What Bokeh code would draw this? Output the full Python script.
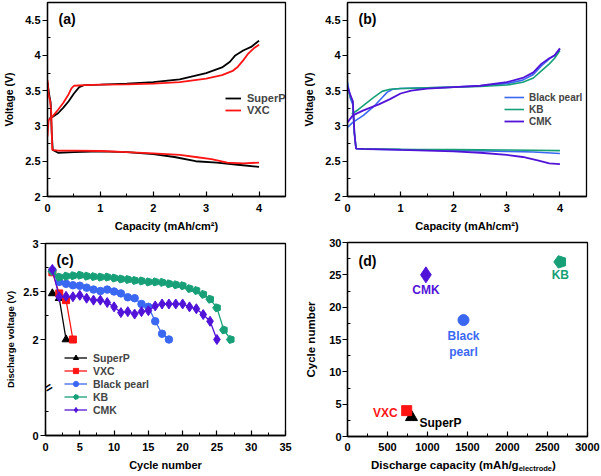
import math
from bokeh.plotting import figure
from bokeh.layouts import column, row
from bokeh.models import Legend, LegendItem, Label, FixedTicker, Range1d, Div
from bokeh.core.properties import value
from bokeh.embed import file_html
from bokeh.resources import INLINE

FONT = "Liberation Sans"
C_SUPERP = "#000000"
C_VXC = "#ff1414"
C_BP = "#3b68f2"
C_KB = "#17a077"
C_CMK = "#5213d9"

# ---------------- (a) SuperP / VXC voltage profiles ----------------
a_superp_dis_x = [0.0, 0.03, 0.06, 0.08, 0.1, 0.2, 0.5, 1.0, 1.5, 2.0, 2.4, 2.8, 3.2, 3.6, 4.0]
a_superp_dis_y = [3.62, 3.45, 3.33, 2.9, 2.66, 2.62, 2.63, 2.64, 2.63, 2.6, 2.56, 2.5, 2.48, 2.45, 2.42]
a_vxc_dis_x = [0.0, 0.02, 0.05, 0.07, 0.09, 0.2, 0.5, 1.0, 1.5, 2.0, 2.5, 2.8, 3.1, 3.4, 3.7, 4.0]
a_vxc_dis_y = [3.65, 3.45, 3.35, 3.2, 2.66, 2.65, 2.65, 2.645, 2.63, 2.61, 2.59, 2.56, 2.53, 2.48, 2.47, 2.48]
a_superp_chg_x = [0.03, 0.1, 0.2, 0.3, 0.4, 0.5, 0.6, 0.7, 1.0, 1.5, 2.0, 2.5, 3.0, 3.3, 3.45, 3.55, 3.7, 3.85, 3.95, 4.0]
a_superp_chg_y = [3.1, 3.13, 3.18, 3.26, 3.35, 3.46, 3.55, 3.58, 3.585, 3.6, 3.62, 3.66, 3.75, 3.83, 3.91, 4.0, 4.07, 4.12, 4.18, 4.21]
a_vxc_chg_x = [0.0, 0.02, 0.1, 0.2, 0.3, 0.4, 0.45, 0.5, 0.7, 1.0, 1.5, 2.0, 2.5, 3.0, 3.3, 3.5, 3.6, 3.7, 3.8, 3.9, 4.0]
a_vxc_chg_y = [2.85, 3.08, 3.14, 3.23, 3.33, 3.45, 3.53, 3.57, 3.58, 3.585, 3.59, 3.6, 3.62, 3.67, 3.72, 3.78, 3.84, 3.93, 4.03, 4.1, 4.15]

# ---------------- (b) Black pearl / KB / CMK voltage profiles ----------------
b_bp_dis_x = [0.0, 0.05, 0.1, 0.13, 0.16, 0.3, 1.0, 2.0, 3.0, 3.5, 4.0]
b_bp_dis_y = [3.62, 3.4, 3.3, 2.9, 2.68, 2.67, 2.665, 2.655, 2.64, 2.63, 2.61]
b_kb_dis_x = [0.0, 0.05, 0.1, 0.13, 0.16, 0.3, 1.0, 2.0, 3.0, 4.0]
b_kb_dis_y = [3.55, 3.42, 3.35, 2.9, 2.68, 2.675, 2.67, 2.665, 2.66, 2.65]
b_cmk_dis_x = [0.0, 0.05, 0.1, 0.13, 0.16, 0.3, 1.0, 2.0, 2.5, 3.0, 3.3, 3.6, 3.8, 4.0]
b_cmk_dis_y = [3.56, 3.45, 3.35, 2.9, 2.68, 2.675, 2.66, 2.64, 2.62, 2.59, 2.56, 2.51, 2.47, 2.46]
b_bp_chg_x = [0.0, 0.1, 0.3, 0.5, 0.65, 0.75, 0.85, 1.0, 1.5, 2.0, 2.5, 3.0, 3.3, 3.5, 3.65, 3.8, 3.9, 4.0]
b_bp_chg_y = [2.98, 3.05, 3.15, 3.28, 3.4, 3.48, 3.52, 3.53, 3.54, 3.55, 3.57, 3.6, 3.65, 3.73, 3.85, 3.95, 4.0, 4.09]
b_kb_chg_x = [0.08, 0.2, 0.35, 0.5, 0.65, 0.8, 1.0, 1.5, 2.0, 2.5, 3.0, 3.3, 3.5, 3.65, 3.8, 3.9, 4.0]
b_kb_chg_y = [3.17, 3.23, 3.32, 3.41, 3.49, 3.52, 3.53, 3.54, 3.55, 3.56, 3.58, 3.62, 3.68, 3.78, 3.88, 3.96, 4.07]
b_cmk_chg_x = [0.0, 0.1, 0.3, 0.6, 0.8, 1.0, 1.2, 1.5, 2.0, 2.5, 3.0, 3.3, 3.5, 3.65, 3.8, 3.9, 4.0]
b_cmk_chg_y = [3.05, 3.15, 3.22, 3.31, 3.38, 3.46, 3.5, 3.53, 3.55, 3.57, 3.62, 3.68, 3.76, 3.88, 3.96, 4.0, 4.1]

# ---------------- (c) discharge voltage vs cycle ----------------
c_superp_cyc = [1, 2, 3]
c_superp_v = [2.48, 2.43, 2.0]
c_vxc_cyc = [1, 2, 3, 4]
c_vxc_v = [2.70, 2.48, 2.41, 2.0]
c_bp_cyc = list(range(1, 19))
c_bp_v = [2.72, 2.60, 2.58, 2.565, 2.56, 2.54, 2.52, 2.505, 2.52, 2.50, 2.48, 2.44, 2.43, 2.37, 2.34, 2.19, 2.06, 2.0]
c_kb_cyc = list(range(1, 28))
c_kb_v = [2.71, 2.65, 2.66, 2.665, 2.67, 2.66, 2.655, 2.65, 2.65, 2.64, 2.63, 2.625, 2.615, 2.61, 2.60, 2.60,
          2.595, 2.58, 2.57, 2.56, 2.53, 2.51, 2.47, 2.42, 2.33, 2.10, 2.0]
c_cmk_cyc = list(range(1, 26))
c_cmk_v = [2.73, 2.445, 2.45, 2.445, 2.46, 2.43, 2.41, 2.41, 2.385, 2.34, 2.28, 2.29, 2.265, 2.29, 2.30,
           2.35, 2.37, 2.37, 2.37, 2.37, 2.34, 2.32, 2.26, 2.19, 2.0]

# ---------------- (d) cycle number vs discharge capacity ----------------
d_names = ["SuperP", "VXC", "Black pearl", "KB", "CMK"]
d_capacity = [800, 740, 1450, 2660, 980]
d_cycles = [3, 4, 18, 27, 25]

# ticks
a_x_ticks = [0, 1, 2, 3, 4]
a_x_labels = ["0", "1", "2", "3", "4"]
a_y_ticks = [2, 2.5, 3, 3.5, 4, 4.5]
a_y_labels = ["2", "2.5", "3", "3.5", "4", "4.5"]
c_x_ticks = [0, 5, 10, 15, 20, 25, 30, 35]
c_y_ticks = [1, 2, 2.5, 3]          # 1 on the broken axis stands for 0
c_y_labels = ["0", "2", "2.5", "3"]
d_x_ticks = [0, 500, 1000, 1500, 2000, 2500, 3000]
d_y_ticks = [0, 5, 10, 15, 20, 25, 30]


def make_fig(width, height, left, right, top, bottom, xr, yr):
    p = figure(width=width, height=height, output_backend="svg", toolbar_location=None,
               x_range=Range1d(*xr), y_range=Range1d(*yr),
               min_border_left=left, min_border_right=right,
               min_border_top=top, min_border_bottom=bottom)
    p.xgrid.visible = False
    p.ygrid.visible = False
    p.outline_line_color = "black"
    p.outline_line_width = 1.3
    p.outline_line_alpha = 1
    p.background_fill_color = "white"
    p.border_fill_color = "white"
    return p


def style_axes(p, xlabel, ylabel, xt, xm, xl, yt, ym, yl, ylab_size="10.5px", xlab_size="11px",
               ylab_standoff=7, ytick_standoff=2, xtick_standoff=7):
    xa = p.xaxis[0]
    ya = p.yaxis[0]
    xa.ticker = FixedTicker(ticks=xt, minor_ticks=xm)
    ya.ticker = FixedTicker(ticks=yt, minor_ticks=ym)
    xa.major_label_overrides = dict(zip(xt, xl))
    ya.major_label_overrides = dict(zip(yt, yl))
    for ax in (xa, ya):
        ax.axis_line_width = 1.3
        ax.axis_line_color = "black"
        ax.major_tick_line_width = 1.2
        ax.minor_tick_line_width = 1.0
        ax.major_label_text_font = FONT
        ax.major_label_text_font_style = "bold"
        ax.major_label_text_font_size = "11px"
        ax.major_label_text_color = "black"
        ax.axis_label_text_font = FONT
        ax.axis_label_text_font_style = "bold"
        ax.axis_label_text_color = "black"
    xa.major_tick_in = 5
    xa.major_tick_out = 0
    xa.minor_tick_in = 3
    xa.minor_tick_out = 0
    xa.major_label_standoff = xtick_standoff
    if xlabel:
        xa.axis_label = xlabel
        xa.axis_label_text_font_size = xlab_size
        xa.axis_label_standoff = 5
    ya.major_tick_in = 0
    ya.major_tick_out = 5
    ya.minor_tick_in = 3
    ya.minor_tick_out = 0
    ya.major_label_standoff = ytick_standoff
    ya.axis_label = ylabel
    ya.axis_label_text_font_size = ylab_size
    ya.axis_label_standoff = ylab_standoff


def panel_label(p, text, x, y):
    p.add_layout(Label(x=x, y=y, x_units="screen", y_units="screen", text=text,
                       text_font=FONT, text_font_style="bold", text_font_size="14px",
                       text_align="left", text_baseline="middle", text_color="black"))


def legend(p, items, loc, font_size, row_h, glyph_w, standoff=6):
    lg = Legend(items=items, location=loc)
    lg.border_line_color = None
    lg.background_fill_alpha = 0
    lg.padding = 0
    lg.margin = 0
    lg.spacing = 0
    lg.label_text_font = FONT
    lg.label_text_font_style = "bold"
    lg.label_text_font_size = font_size
    lg.label_height = row_h
    lg.glyph_height = row_h
    lg.glyph_width = glyph_w
    lg.label_standoff = standoff
    lg.label_text_baseline = "middle"
    p.add_layout(lg)


# ======== (a) ========
pa = make_fig(300, 238, 44, 15, 2, 42, (0, 4.5), (2, 4.75))
style_axes(pa, "Capacity (mAh/cm\u00b2)", "Voltage (V)", a_x_ticks, [0.5, 1.5, 2.5, 3.5], a_x_labels,
           a_y_ticks, [2.25, 2.75, 3.25, 3.75, 4.25], a_y_labels)
ra1 = pa.line(a_superp_dis_x, a_superp_dis_y, color=C_SUPERP, line_width=1.8)
pa.line(a_superp_chg_x, a_superp_chg_y, color=C_SUPERP, line_width=1.8)
ra2 = pa.line(a_vxc_dis_x, a_vxc_dis_y, color=C_VXC, line_width=1.8)
pa.line(a_vxc_chg_x, a_vxc_chg_y, color=C_VXC, line_width=1.8)
legend(pa, [LegendItem(label="SuperP", renderers=[ra1]), LegendItem(label="VXC", renderers=[ra2])],
       (178, 80), "11px", 12, 16)
panel_label(pa, "(a)", 11, 178)

# ======== (b) ========
pb = make_fig(301, 238, 45, 15, 2, 42, (0, 4.5), (2, 4.75))
style_axes(pb, "Capacity (mAh/cm\u00b2)", "Voltage (V)", a_x_ticks, [0.5, 1.5, 2.5, 3.5], a_x_labels,
           a_y_ticks, [2.25, 2.75, 3.25, 3.75, 4.25], a_y_labels)
rb1 = pb.line(b_bp_dis_x, b_bp_dis_y, color=C_BP, line_width=1.6)
pb.line(b_bp_chg_x, b_bp_chg_y, color=C_BP, line_width=1.6)
rb2 = pb.line(b_kb_dis_x, b_kb_dis_y, color=C_KB, line_width=1.6)
pb.line(b_kb_chg_x, b_kb_chg_y, color=C_KB, line_width=1.6)
rb3 = pb.line(b_cmk_dis_x, b_cmk_dis_y, color=C_CMK, line_width=1.8)
pb.line(b_cmk_chg_x, b_cmk_chg_y, color=C_CMK, line_width=1.8)
legend(pb, [LegendItem(label="Black pearl", renderers=[rb1]), LegendItem(label="KB", renderers=[rb2]),
            LegendItem(label="CMK", renderers=[rb3])], (157, 69), "10px", 12, 20, 5)
panel_label(pb, "(b)", 11, 178)

# ======== (c) ========
pc = make_fig(300, 238, 45, 15, 5, 41, (0, 35), (1, 3))
style_axes(pc, "Cycle number", "Discharge voltage (V)", c_x_ticks,
           [2.5, 7.5, 12.5, 17.5, 22.5, 27.5, 32.5], [str(t) for t in c_x_ticks],
           c_y_ticks, [1.25, 2.25, 2.75], c_y_labels, ylab_size="9.5px", ylab_standoff=4)
items_c = []
r = pc.line(c_superp_cyc, c_superp_v, color=C_SUPERP, line_width=1.3)
m = pc.scatter(c_superp_cyc, c_superp_v, marker="triangle", size=8, color=C_SUPERP)
items_c.append(LegendItem(label="SuperP", renderers=[r, m]))
r = pc.line(c_vxc_cyc, c_vxc_v, color=C_VXC, line_width=1.3)
m = pc.scatter(c_vxc_cyc, c_vxc_v, marker="square", size=7, color=C_VXC)
items_c.append(LegendItem(label="VXC", renderers=[r, m]))
r = pc.line(c_bp_cyc, c_bp_v, color=C_BP, line_width=1.3)
m = pc.scatter(c_bp_cyc, c_bp_v, marker="circle", size=7.5, color=C_BP)
items_c.append(LegendItem(label="Black pearl", renderers=[r, m]))
r = pc.line(c_kb_cyc, c_kb_v, color=C_KB, line_width=1.3)
try:
    m = pc.ngon(c_kb_cyc, c_kb_v, radius=4.2, radius_units="screen", n=5, angle=math.pi / 2,
                fill_color=C_KB, line_color=C_KB)
except Exception:
    m = pc.scatter(c_kb_cyc, c_kb_v, marker="hex", size=8, color=C_KB)
items_c.append(LegendItem(label="KB", renderers=[r, m]))
r = pc.line(c_cmk_cyc, c_cmk_v, color=C_CMK, line_width=1.3)
m = pc.scatter(c_cmk_cyc, c_cmk_v, marker="diamond", size=10, color=C_CMK)
items_c.append(LegendItem(label="CMK", renderers=[r, m]))
legend(pc, items_c, (19, 19), "10.5px", 13, 23)
panel_label(pc, "(c)", 11, 176)
# axis break mark on the broken y axis (inside edge of the frame)
pc.add_layout(Label(x=3, y=48, x_units="screen", y_units="screen", text="=", angle=0.55,
                    text_font=FONT, text_font_style="bold", text_font_size="13px",
                    text_align="center", text_baseline="middle", text_color="black"))

# ======== (d) ========
pd_ = make_fig(301, 218, 47, 14, 4, 20, (0, 3000), (0, 30))
style_axes(pd_, "", "Cycle number", d_x_ticks, [250, 750, 1250, 1750, 2250, 2750],
           [str(t) for t in d_x_ticks], d_y_ticks, [2.5, 7.5, 12.5, 17.5, 22.5, 27.5],
           [str(t) for t in d_y_ticks], ylab_size="11.5px", ylab_standoff=9, ytick_standoff=1,
           xtick_standoff=6)
d_colors = [C_SUPERP, C_VXC, C_BP, C_KB, C_CMK]
d_markers = ["triangle", "square", "circle", None, "diamond"]
d_sizes = [12, 10, 11, None, 16]
for i in range(5):
    if d_markers[i] is None:
        try:
            pd_.ngon([d_capacity[i]], [d_cycles[i]], radius=6.5, radius_units="screen", n=5,
                     angle=math.pi / 2, fill_color=d_colors[i], line_color=d_colors[i])
        except Exception:
            pd_.scatter([d_capacity[i]], [d_cycles[i]], marker="hex", size=12, color=d_colors[i])
    else:
        pd_.scatter([d_capacity[i]], [d_cycles[i]], marker=d_markers[i], size=d_sizes[i],
                    color=d_colors[i])
# labels next to the points
d_text = ["SuperP", "VXC", "Black\npearl", "KB", "CMK"]
d_align = ["left", "right", "center", "center", "center"]
d_baseline = ["middle", "middle", "top", "middle", "middle"]
d_xoff = [8, -9, 0, 0, 0]
d_yoff = [6, 2.5, 8.5, 13, 15]
for i in range(5):
    pd_.text([d_capacity[i]], [d_cycles[i]], text=[d_text[i]], x_offset=d_xoff[i], y_offset=d_yoff[i],
             text_font=value(FONT), text_font_style="bold", text_font_size="12px",
             text_color=d_colors[i], text_align=d_align[i], text_baseline=d_baseline[i],
             text_line_height=1.15)
panel_label(pd_, "(d)", 11, 176)

# x-axis title of (d) with a subscript, as HTML text under the figure
d_xlabel = Div(width=301, height=20, margin=(0, 0, 0, 0),
               text=("<div style=\"font-family:'Liberation Sans',Arial,sans-serif;font-weight:bold;"
                     "font-size:11.5px;line-height:13px;padding-left:71px;padding-top:3px;"
                     "white-space:nowrap;color:#000\">Discharge capacity (mAh/g"
                     "<sub style=\"font-size:7.5px;vertical-align:-2px\">electrode</sub>)</div>"))

layout = column(row(pa, pb), row(pc, column(pd_, d_xlabel)))
open("out.html", "w").write(file_html(layout, INLINE))
